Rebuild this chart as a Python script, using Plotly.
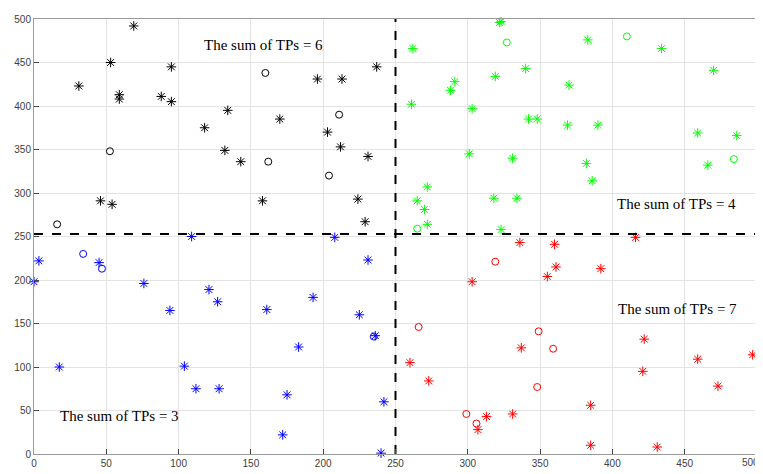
import plotly.graph_objects as go

# Black (top-left)
black_star_x = [31, 53, 69, 59, 59, 95, 88, 95, 118, 134, 132, 143, 46, 54, 158, 196, 213, 237, 170, 203, 212, 231, 224, 229]
black_star_y = [423, 450, 492, 413, 408, 445, 411, 405, 375, 395, 349, 336, 291, 287, 291, 431, 431, 445, 385, 370, 353, 342, 293, 267]
black_circ_x = [16, 52.5, 160, 162, 211, 204]
black_circ_y = [264, 348, 438, 336, 390, 320]

# Green (top-right)
green_star_x = [262, 322, 323, 291, 288, 319, 261, 303, 301, 272, 265, 270, 272, 318, 323, 383, 434, 340, 470, 370, 342, 348, 369, 390, 459, 486, 331, 382, 386, 466, 334]
green_star_y = [466, 496, 497, 428, 418, 434, 402, 397, 345, 307, 291, 281, 264, 294, 258, 476, 466, 443, 441, 424, 385, 385, 378, 378, 369, 366, 340, 334, 314, 332, 294]
green_circ_x = [327, 410, 484, 265]
green_circ_y = [473, 480, 339, 259]

# Blue (bottom-left)
blue_star_x = [3.4, 0, 45, 76, 94, 109, 121, 127, 17.5, 104, 112, 128, 208, 231, 193, 161, 225, 236, 183, 175, 242, 172, 240]
blue_star_y = [222, 198, 220, 196, 165, 250, 189, 175, 100, 101, 75, 75, 249, 223, 180, 166, 160, 136, 123, 68, 60, 22, 1]
blue_circ_x = [34, 47, 235]
blue_circ_y = [230, 213, 135]

# Red (bottom-right)
red_star_x = [303, 260, 273, 313, 307, 336, 360, 361, 355, 392, 416, 337, 422, 421, 459, 497, 473, 331, 385, 385, 431]
red_star_y = [198, 105, 84, 43, 28, 243, 241, 215, 204, 213, 249, 122, 132, 95, 109, 114, 78, 46, 56, 10, 8]
red_circ_x = [319, 266, 299, 306, 349, 359, 348]
red_circ_y = [221, 146, 46, 35, 141, 121, 77]

split_x = 250
split_y = 253

labels = ["The sum of TPs = 6", "The sum of TPs = 4", "The sum of TPs = 7", "The sum of TPs = 3"]
label_x = [159, 444, 445, 59]
label_y = [470, 287, 167, 44]

ticks = [0, 50, 100, 150, 200, 250, 300, 350, 400, 450, 500]
tick_font = dict(family="Liberation Sans, Arial, sans-serif", size=10, color="#404040")

fig = go.Figure()

groups = [
    (black_star_x, black_star_y, black_circ_x, black_circ_y, "#000000"),
    (green_star_x, green_star_y, green_circ_x, green_circ_y, "#00ff00"),
    (blue_star_x, blue_star_y, blue_circ_x, blue_circ_y, "#0000ff"),
    (red_star_x, red_star_y, red_circ_x, red_circ_y, "#ff0000"),
]
for sx, sy, cx, cy, col in groups:
    fig.add_trace(go.Scatter(x=sx, y=sy, mode="markers",
                             marker=dict(symbol="asterisk-open", size=8, color=col,
                                         line=dict(color=col, width=1)),
                             showlegend=False, hoverinfo="skip", cliponaxis=False))
    fig.add_trace(go.Scatter(x=cx, y=cy, mode="markers",
                             marker=dict(symbol="circle-open", size=7, color=col,
                                         line=dict(color=col, width=1)),
                             showlegend=False, hoverinfo="skip", cliponaxis=False))

fig.add_trace(go.Scatter(x=[split_x, split_x], y=[0, 500], mode="lines",
                         line=dict(color="black", width=2, dash="dash"),
                         showlegend=False, hoverinfo="skip"))
fig.add_trace(go.Scatter(x=[0, 500], y=[split_y, split_y], mode="lines",
                         line=dict(color="black", width=2, dash="dash"),
                         showlegend=False, hoverinfo="skip"))

for t, lx, ly in zip(labels, label_x, label_y):
    fig.add_annotation(x=lx, y=ly, text=t, showarrow=False,
                       font=dict(family="Liberation Serif, Times New Roman, serif", size=15, color="black"))

# last x tick label, kept inside the page at the right edge
fig.add_annotation(x=ticks[-1], y=0, yref="paper", text=str(ticks[-1]), showarrow=False,
                   xanchor="right", xshift=4, yanchor="top", yshift=-1, font=tick_font)

axis_common = dict(range=[0, 500], tickvals=ticks, ticks="inside", ticklen=5,
                   tickcolor="#444444", showgrid=True, gridcolor="#e3e3e3", gridwidth=1,
                   showline=True, linecolor="#999999", linewidth=1, mirror=True,
                   zeroline=False, tickfont=tick_font)

# The page body adds an ~8px offset, so the figure is sized to fit the window.
fig.update_layout(
    width=755, height=466,
    margin=dict(l=26, r=5, t=5, b=20),
    paper_bgcolor="white", plot_bgcolor="white",
    xaxis=axis_common, yaxis=dict(axis_common, ticklabeloverflow="allow"),
)

fig.write_html("out.html")
